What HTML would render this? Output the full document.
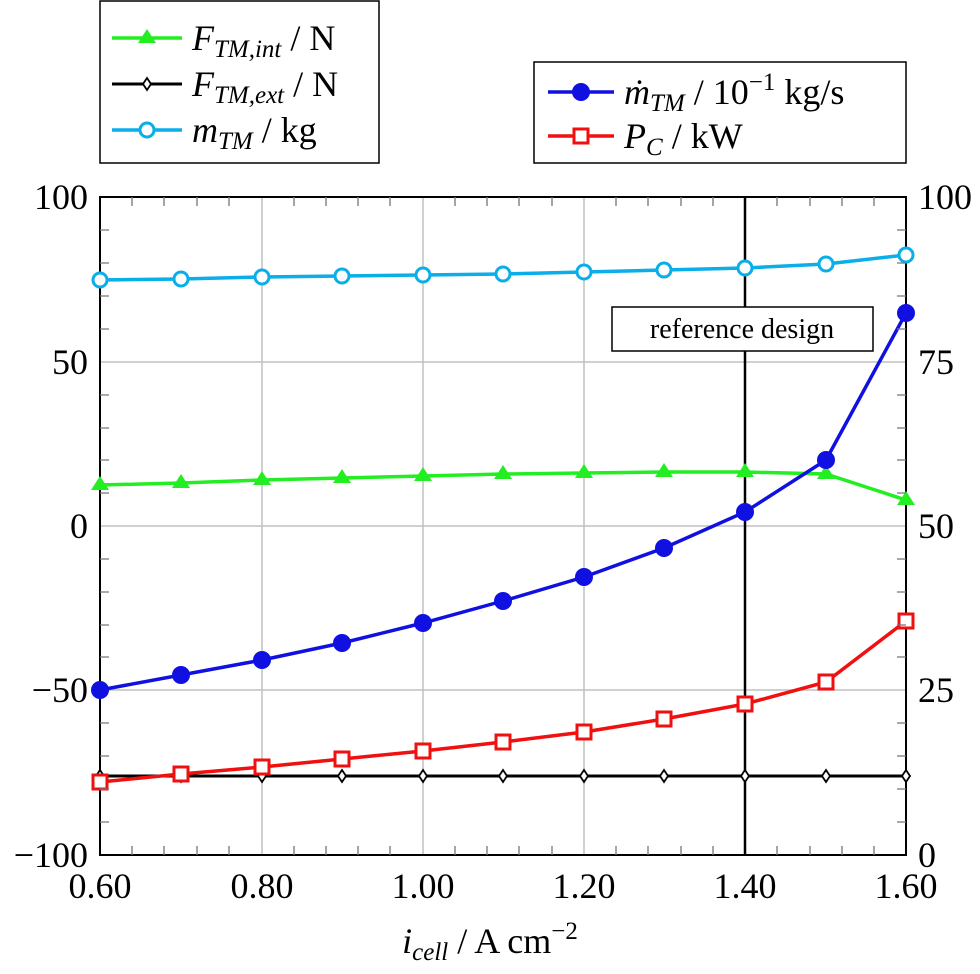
<!DOCTYPE html><html><head><style>body{margin:0;background:#fff}</style></head><body>
<svg width="980" height="969" xmlns="http://www.w3.org/2000/svg" font-family="Liberation Serif, serif" font-size="36">
<g stroke="#c0c0c0" stroke-width="1.5">
<line x1="262" y1="197" x2="262" y2="855"/><line x1="423" y1="197" x2="423" y2="855"/><line x1="584" y1="197" x2="584" y2="855"/>
<line x1="100" y1="362" x2="906" y2="362"/><line x1="100" y1="526" x2="906" y2="526"/><line x1="100" y1="690" x2="906" y2="690"/>
</g>
<rect x="100" y="197" width="806" height="658" fill="none" stroke="#000" stroke-width="2"/>
<g text-anchor="end"><text x="88" y="209">100</text><text x="88" y="374">50</text><text x="88" y="538">0</text><text x="88" y="702">−50</text><text x="88" y="867">−100</text></g>
<g text-anchor="start"><text x="918" y="209">100</text><text x="918" y="374">75</text><text x="918" y="538">50</text><text x="918" y="702">25</text><text x="918" y="867">0</text></g>
<g text-anchor="middle"><text x="100" y="898">0.60</text><text x="262" y="898">0.80</text><text x="423" y="898">1.00</text><text x="584" y="898">1.20</text><text x="745" y="898">1.40</text><text x="906" y="898">1.60</text>
<text x="490" y="953"><tspan font-style="italic">i</tspan><tspan font-style="italic" font-size="25" dy="7">cell</tspan><tspan dy="-7"> / A cm</tspan><tspan font-size="25" dy="-14">−2</tspan></text></g>
<line x1="745" y1="197" x2="745" y2="855" stroke="#000" stroke-width="2.5"/>
<polyline fill="none" stroke="#000" stroke-width="3" points="100,776 906,776"/>
<g fill="#fff" stroke="#000" stroke-width="1.8">
<path d="M100 770l4 6-4 6-4-6z"/><path d="M181 770l4 6-4 6-4-6z"/><path d="M262 770l4 6-4 6-4-6z"/><path d="M342 770l4 6-4 6-4-6z"/><path d="M423 770l4 6-4 6-4-6z"/><path d="M503 770l4 6-4 6-4-6z"/><path d="M584 770l4 6-4 6-4-6z"/><path d="M664 770l4 6-4 6-4-6z"/><path d="M745 770l4 6-4 6-4-6z"/><path d="M826 770l4 6-4 6-4-6z"/><path d="M906 770l4 6-4 6-4-6z"/>
</g>
<polyline fill="none" stroke="#0aaee8" stroke-width="3.5" points="100,280 181,279 262,277 342,276 423,275 503,274 584,272 664,270 745,268 826,264 906,255"/>
<g fill="#fff" stroke="#0aaee8" stroke-width="3"><circle cx="100" cy="280" r="7"/><circle cx="181" cy="279" r="7"/><circle cx="262" cy="277" r="7"/><circle cx="342" cy="276" r="7"/><circle cx="423" cy="275" r="7"/><circle cx="503" cy="274" r="7"/><circle cx="584" cy="272" r="7"/><circle cx="664" cy="270" r="7"/><circle cx="745" cy="268" r="7"/><circle cx="826" cy="264" r="7"/><circle cx="906" cy="255" r="7"/></g>
<polyline fill="none" stroke="#22ee22" stroke-width="3.5" points="100,485 181,483 262,480 342,478 423,476 503,474 584,473 664,472 745,472 826,474 906,500"/>
<g fill="#22ee22"><path d="M100 476l9 14h-18z"/><path d="M181 474l9 14h-18z"/><path d="M262 471l9 14h-18z"/><path d="M342 469l9 14h-18z"/><path d="M423 467l9 14h-18z"/><path d="M503 465l9 14h-18z"/><path d="M584 464l9 14h-18z"/><path d="M664 463l9 14h-18z"/><path d="M745 463l9 14h-18z"/><path d="M826 465l9 14h-18z"/><path d="M906 491l9 14h-18z"/></g>
<polyline fill="none" stroke="#1010e0" stroke-width="3.5" points="100,690 181,675 262,660 342,643 423,623 503,601 584,577 664,548 745,512 826,460 906,313"/>
<g fill="#1010e0"><circle cx="100" cy="690" r="9"/><circle cx="181" cy="675" r="9"/><circle cx="262" cy="660" r="9"/><circle cx="342" cy="643" r="9"/><circle cx="423" cy="623" r="9"/><circle cx="503" cy="601" r="9"/><circle cx="584" cy="577" r="9"/><circle cx="664" cy="548" r="9"/><circle cx="745" cy="512" r="9"/><circle cx="826" cy="460" r="9"/><circle cx="906" cy="313" r="9"/></g>
<polyline fill="none" stroke="#f01010" stroke-width="3.5" points="100,782 181,774 262,767 342,759 423,751 503,742 584,732 664,719 745,704 826,682 906,621"/>
<g fill="#fff" stroke="#f01010" stroke-width="3"><rect x="93" y="775" width="14" height="14"/><rect x="174" y="767" width="14" height="14"/><rect x="255" y="760" width="14" height="14"/><rect x="335" y="752" width="14" height="14"/><rect x="416" y="744" width="14" height="14"/><rect x="496" y="735" width="14" height="14"/><rect x="577" y="725" width="14" height="14"/><rect x="657" y="712" width="14" height="14"/><rect x="738" y="697" width="14" height="14"/><rect x="819" y="675" width="14" height="14"/><rect x="899" y="614" width="14" height="14"/></g>
<g stroke="#777" stroke-width="1.3">
<path d="M132 197v9M164 197v9M197 197v9M229 197v9M294 197v9M326 197v9M358 197v9M390 197v9M455 197v9M487 197v9M519 197v9M552 197v9M616 197v9M648 197v9M681 197v9M713 197v9M777 197v9M810 197v9M842 197v9M874 197v9"/>
<path d="M132 855v-9M164 855v-9M197 855v-9M229 855v-9M294 855v-9M326 855v-9M358 855v-9M390 855v-9M455 855v-9M487 855v-9M519 855v-9M552 855v-9M616 855v-9M648 855v-9M681 855v-9M713 855v-9M777 855v-9M810 855v-9M842 855v-9M874 855v-9"/>
<path d="M100 230h9M100 263h9M100 296h9M100 329h9M100 395h9M100 428h9M100 460h9M100 493h9M100 559h9M100 592h9M100 625h9M100 657h9M100 723h9M100 756h9M100 789h9M100 822h9"/>
<path d="M906 230h-9M906 263h-9M906 296h-9M906 329h-9M906 395h-9M906 428h-9M906 460h-9M906 493h-9M906 559h-9M906 592h-9M906 625h-9M906 657h-9M906 723h-9M906 756h-9M906 789h-9M906 822h-9"/>
</g>
<rect x="612" y="307" width="261" height="44" fill="#fff" stroke="#000" stroke-width="1.5"/>
<text x="742" y="338" text-anchor="middle" font-size="28">reference design</text>
<rect x="100" y="1" width="279" height="162" fill="#fff" stroke="#000" stroke-width="1.5"/>
<line x1="112" y1="38" x2="182" y2="38" stroke="#22ee22" stroke-width="3.5"/><path d="M147 29l9 14h-18z" fill="#22ee22"/>
<text x="192" y="50"><tspan font-style="italic">F</tspan><tspan font-style="italic" font-size="25" dy="7">TM,int</tspan><tspan dy="-7"> / N</tspan></text>
<line x1="112" y1="84" x2="182" y2="84" stroke="#000" stroke-width="3"/><path d="M147 78l4 6-4 6-4-6z" fill="#fff" stroke="#000" stroke-width="1.8"/>
<text x="192" y="96"><tspan font-style="italic">F</tspan><tspan font-style="italic" font-size="25" dy="7">TM,ext</tspan><tspan dy="-7"> / N</tspan></text>
<line x1="112" y1="130" x2="182" y2="130" stroke="#0aaee8" stroke-width="3.5"/><circle cx="147" cy="130" r="7" fill="#fff" stroke="#0aaee8" stroke-width="3"/>
<text x="192" y="142"><tspan font-style="italic">m</tspan><tspan font-style="italic" font-size="25" dy="7">TM</tspan><tspan dy="-7"> / kg</tspan></text>
<rect x="534" y="62" width="372" height="101" fill="#fff" stroke="#000" stroke-width="1.5"/>
<line x1="548" y1="92" x2="614" y2="92" stroke="#1010e0" stroke-width="3.5"/><circle cx="581" cy="92" r="9" fill="#1010e0"/>
<text x="624" y="104"><tspan font-style="italic">ṁ</tspan><tspan font-style="italic" font-size="25" dy="7">TM</tspan><tspan dy="-7"> / 10</tspan><tspan font-size="25" dy="-14">−1</tspan><tspan dy="14"> kg/s</tspan></text>
<line x1="548" y1="136" x2="614" y2="136" stroke="#f01010" stroke-width="3.5"/><rect x="574" y="129" width="14" height="14" fill="#fff" stroke="#f01010" stroke-width="3"/>
<text x="624" y="148"><tspan font-style="italic">P</tspan><tspan font-style="italic" font-size="25" dy="7">C</tspan><tspan dy="-7"> / kW</tspan></text>
</svg></body></html>
